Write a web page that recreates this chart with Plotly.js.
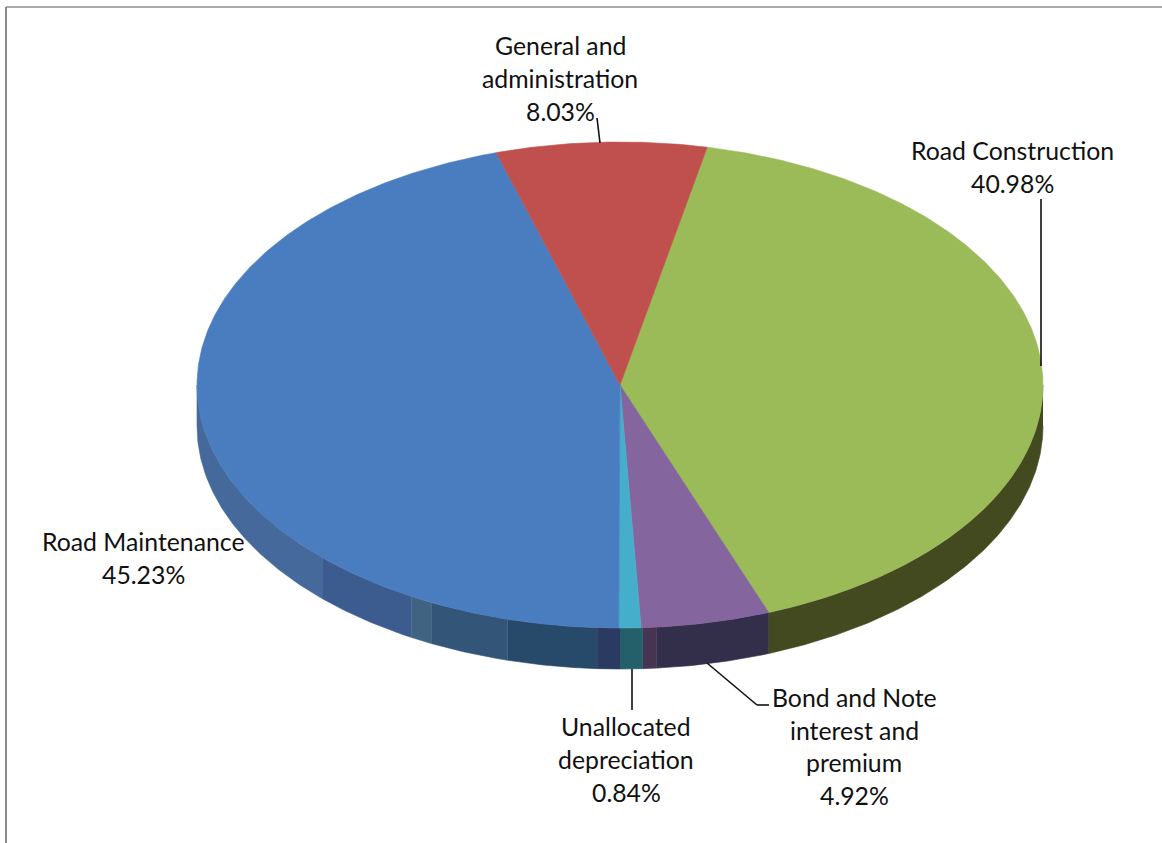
<!DOCTYPE html>
<html>
<head>
<meta charset="utf-8">
<script src="https://cdn.plot.ly/plotly-3.0.1.min.js"></script>
<style>html,body{margin:0;padding:0;background:#fff;overflow:hidden}#chart{width:1162px;height:843px}</style>
</head>
<body>
<div id="chart"></div>
<script>
// Data, clockwise from the slice that follows the top of the pie
var categories = ['Road Construction', 'Bond and Note interest and premium', 'Unallocated depreciation', 'Road Maintenance', 'General and administration'];
var shares = [40.98, 4.92, 0.84, 45.23, 8.03];
var topColors = ['#9bbb59', '#85659e', '#45aecb', '#4a7dbf', '#c0504d'];
var firstSliceAngle = 11.9;

// Shaded bands on the rim: angle stops in degrees and the colour between each pair
var rimAngles = [90, 159.4, 175, 176.9, 180, 183.1, 195.4, 206.4, 209.5, 224.6, 270];
var rimColors = ['#444a20', '#332e4a', '#473352', '#24606a', '#2b3a60', '#27496a', '#335678', '#416382', '#3c5b8f', '#46699b'];

// Labels: text lines with their pixel centres
var labelLines = [
  ['General and', 560, 45], ['administration', 560, 78], ['8.03%', 560, 111],
  ['Road Construction', 1012, 151], ['40.98%', 1012, 184],
  ['Road Maintenance', 143, 541], ['45.23%', 143, 574],
  ['Unallocated', 626, 726], ['depreciation', 626, 759], ['0.84%', 626, 792],
  ['Bond and Note', 854, 697], ['interest and', 854, 730], ['premium', 854, 762], ['4.92%', 854, 795]
];
var leaders = [
  [[597, 118], [600, 143]],
  [[1041, 199], [1041, 366]],
  [[632, 669], [632, 710]],
  [[707, 663], [757, 705], [769, 705]]
];

var W = 1162, H = 843, cx = 620, cy = 385, rx = 423, ry = 243, depth = 41;
var dy = depth / ry;

function pt(deg) {
  var t = deg * Math.PI / 180;
  return [Math.sin(t), Math.cos(t)];
}
function arc(a0, a1) {
  var out = [], n = Math.max(2, Math.ceil(Math.abs(a1 - a0) * 2));
  for (var i = 0; i <= n; i++) out.push(pt(a0 + (a1 - a0) * i / n));
  return out;
}
function poly(points, color) {
  return {
    type: 'scatter', mode: 'lines', fill: 'toself', fillcolor: color,
    x: points.map(function (p) { return p[0]; }),
    y: points.map(function (p) { return p[1]; }),
    line: { color: color, width: 0.6 }, hoverinfo: 'skip', showlegend: false
  };
}
function rim(a0, a1, color) {
  var upper = arc(a0, a1);
  var lower = upper.slice().reverse().map(function (p) { return [p[0], p[1] - dy]; });
  return poly(upper.concat(lower), color);
}

var traces = [];
for (var i = 0; i < rimColors.length; i++) {
  traces.push(rim(rimAngles[i], rimAngles[i + 1], rimColors[i]));
}
var a = firstSliceAngle;
shares.forEach(function (s, i) {
  var b = a + s * 3.6;
  traces.push(Object.assign(poly([[0, 0]].concat(arc(a, b)).concat([[0, 0]]), topColors[i]), { name: categories[i] }));
  a = b;
});

var annotations = labelLines.map(function (l) {
  return {
    text: l[0], xref: 'paper', yref: 'paper', x: l[1] / W, y: 1 - l[2] / H,
    xanchor: 'center', yanchor: 'middle', showarrow: false,
    font: { family: 'Lato, sans-serif', size: 24.8, color: '#111' }
  };
});

var shapes = [
  { type: 'line', xref: 'paper', yref: 'paper', x0: 6 / W, x1: 6 / W, y0: 0, y1: 1 - 7 / H, line: { color: '#8c8c8c', width: 2 } },
  { type: 'line', xref: 'paper', yref: 'paper', x0: 6 / W, x1: 1, y0: 1 - 7 / H, y1: 1 - 7 / H, line: { color: '#8c8c8c', width: 1.5 } }
];
leaders.forEach(function (seg) {
  for (var i = 0; i + 1 < seg.length; i++) {
    shapes.push({
      type: 'line', xref: 'paper', yref: 'paper',
      x0: seg[i][0] / W, y0: 1 - seg[i][1] / H, x1: seg[i + 1][0] / W, y1: 1 - seg[i + 1][1] / H,
      line: { color: '#111', width: 1.6 }
    });
  }
});

Plotly.newPlot('chart', traces, {
  width: W, height: H, margin: { l: 0, r: 0, t: 0, b: 0 },
  paper_bgcolor: '#fff', plot_bgcolor: '#fff', showlegend: false,
  xaxis: { visible: false, fixedrange: true, range: [-cx / rx, (W - cx) / rx] },
  yaxis: { visible: false, fixedrange: true, range: [(cy - H) / ry, cy / ry] },
  annotations: annotations, shapes: shapes, hovermode: false
}, { displayModeBar: false, staticPlot: true });
</script>
</body>
</html>
